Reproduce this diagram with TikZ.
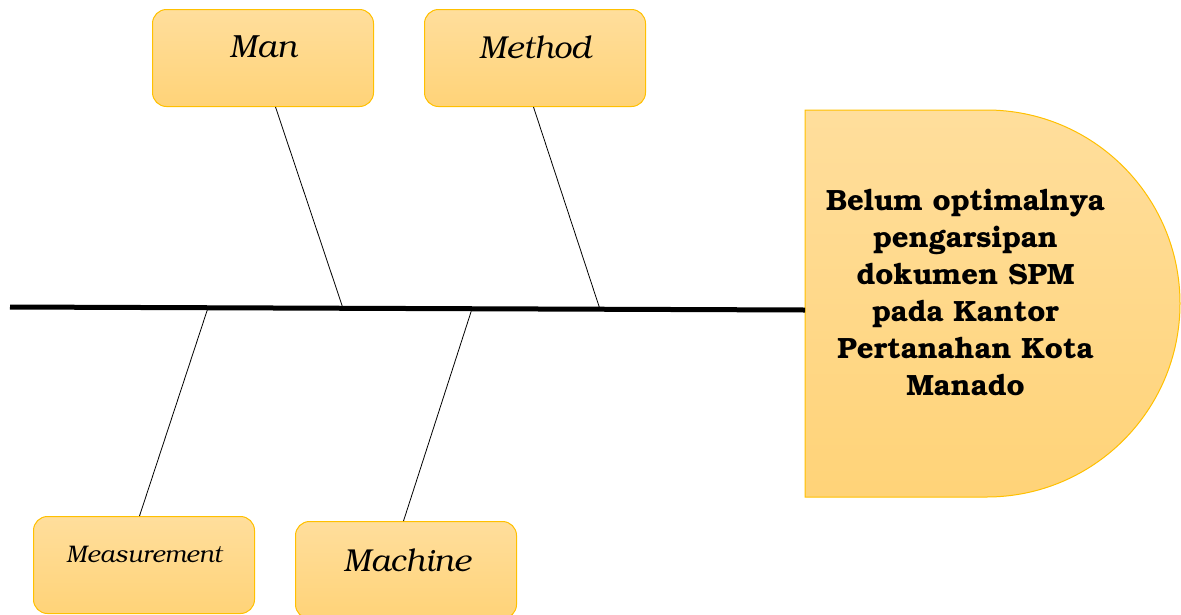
\documentclass[tikz,border=0pt]{standalone}
\usepackage[T1]{fontenc}
\usepackage{bookman}
\definecolor{boxtop}{RGB}{255,222,156}
\definecolor{boxbot}{RGB}{255,211,120}
\definecolor{boxline}{RGB}{255,192,0}
\tikzset{
  catbox/.style={draw=boxline, line width=1pt, rounded corners=14pt, top color=boxtop, bottom color=boxbot, minimum width=221pt, minimum height=97pt, anchor=north west, inner sep=0pt},
  cattext/.style={font=\itshape, inner sep=0pt},
  bone/.style={line width=0.8pt, black},
}
\begin{document}
\begin{tikzpicture}[x=1pt,y=-1pt]
\useasboundingbox (0,0) rectangle (1181,614);
% head
\path[draw=boxline, line width=1pt, top color=boxtop, bottom color=boxbot]
  (805,110) -- (986.5,110) arc[start angle=90, end angle=-90, radius=193.5pt] -- (805,497) -- cycle;
\node[font=\bfseries\fontsize{29.3}{37}\selectfont, align=center, inner sep=0pt] (effect) at (965.5,293)
  {Belum optimalnya\\pengarsipan\\dokumen SPM\\pada Kantor\\Pertanahan Kota\\Manado};
\coordinate (headleft) at (805,310);
\coordinate (tail) at (10,307);
\draw[line width=5pt] (tail) -- (headleft);
% spine points
\coordinate (sMan) at (343,308.3);
\coordinate (sMethod) at (600,309.3);
\coordinate (sMeas) at (208,307.8);
\coordinate (sMach) at (472,308.8);
% boxes
\node[catbox] (man) at (152,9) {};
\node[catbox] (method) at (424,9) {};
\node[catbox] (meas) at (33,516) {};
\node[catbox] (mach) at (295,521) {};
\node[cattext, font=\itshape\fontsize{32}{38}\selectfont] (mantext) at (263,47) {Man};
\node[cattext, font=\itshape\fontsize{31.7}{38}\selectfont] (methodtext) at (535,47) {Method};
\node[cattext, font=\itshape\fontsize{24}{28}\selectfont] (meastext) at (144,555) {Measurement};
\node[cattext, font=\itshape\fontsize{31.7}{38}\selectfont] (machtext) at (407,560) {Machine};
% bones
\draw[bone] ([xshift=12.5pt]man.south) -- (sMan);
\draw[bone] ([xshift=-1.5pt]method.south) -- (sMethod);
\draw[bone] ([xshift=-4.5pt]meas.north) -- (sMeas);
\draw[bone] ([xshift=-2.5pt]mach.north) -- (sMach);
\end{tikzpicture}
\end{document}
